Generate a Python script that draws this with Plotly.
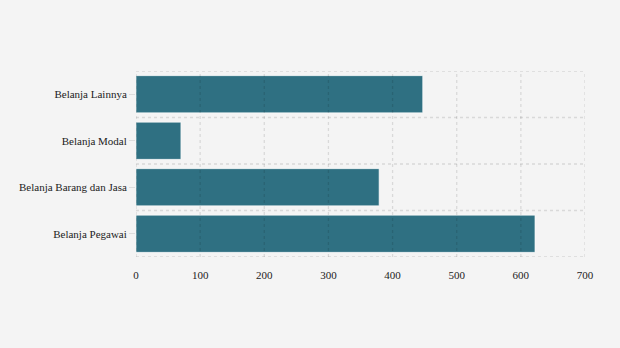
import plotly.graph_objects as go

categories = ["Belanja Pegawai", "Belanja Barang dan Jasa", "Belanja Modal", "Belanja Lainnya"]
values = [622, 379, 70, 447]
x_ticks = [0, 100, 200, 300, 400, 500, 600, 700]

positions = list(range(len(categories)))
bounds = [p - 0.5 for p in positions] + [positions[-1] + 0.5]

GRID = "rgba(0,0,0,0.11)"

fig = go.Figure(go.Bar(
    x=values,
    y=positions,
    orientation="h",
    width=0.8,
    marker=dict(color="#2f7082", line=dict(color="rgba(255,255,255,0.6)", width=1)),
    hoverinfo="x+text",
    text=categories,
    textposition="none",
))

# grid lines drawn above the bars, at the axis tick values / category boundaries
for xv in x_ticks:
    fig.add_shape(type="line", xref="x", yref="paper", x0=xv, x1=xv, y0=0, y1=1,
                  line=dict(color=GRID, width=1.3, dash="dot"), layer="above")
for yv in bounds:
    fig.add_shape(type="line", xref="paper", yref="y", x0=0, x1=1, y0=yv, y1=yv,
                  line=dict(color=GRID, width=1.3, dash="dot"), layer="above")

fig.update_layout(
    width=620, height=348,
    margin=dict(l=136, r=35, t=71, b=91),
    paper_bgcolor="#f4f4f4",
    plot_bgcolor="#f4f4f4",
    font=dict(family="Liberation Serif, Times New Roman, serif", size=11, color="#222222"),
    showlegend=False,
    bargap=0.2,
)
fig.update_xaxes(
    range=[0, 700],
    tickvals=x_ticks,
    showgrid=False, zeroline=False, showline=False,
    ticks="outside", ticklen=8, tickcolor="rgba(0,0,0,0)",
    fixedrange=True,
)
fig.update_yaxes(
    range=[bounds[0], bounds[-1]],
    tickvals=positions, ticktext=categories,
    showgrid=False, zeroline=False, showline=False,
    ticks="outside", ticklen=6, tickcolor="#dddddd",
    fixedrange=True,
)

fig.write_html("out.html", config={"displayModeBar": False})
